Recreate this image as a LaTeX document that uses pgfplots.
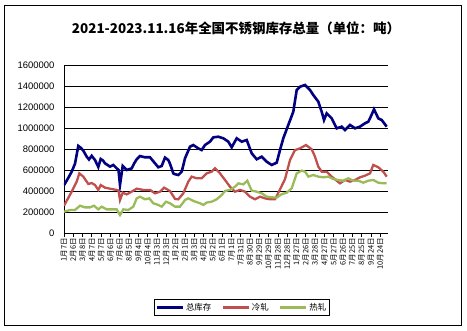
\documentclass[border=0pt]{standalone}
\usepackage{pgfplots}
\pgfplotsset{compat=1.18}
\usepackage{fontspec}
\setmainfont{Liberation Sans}
\newfontfamily\cjk{Noto Sans CJK SC}
\definecolor{cTotal}{RGB}{0,0,128}
\definecolor{cCold}{RGB}{192,80,77}
\definecolor{cHot}{RGB}{155,187,89}
\begin{document}
\begin{tikzpicture}
\useasboundingbox (-64bp,-98bp) rectangle (403bp,233bp);
\begin{axis}[
  at={(0,0)}, anchor=south west,
  scale only axis, width=324bp, height=168bp,
  xmin=64, xmax=388, ymin=0, ymax=1600000,
  axis x line*=bottom, axis y line*=left,
  axis line style={line width=0.8bp, black},
  ymajorgrids, grid style={line width=0.8bp, black},
  ytick={0,200000,...,1600000},
  scaled y ticks=false,
  /pgf/number format/.cd, fixed, 1000 sep={}, assume math mode=true,
  /pgfplots/.cd,
  ytick style={draw=none},
  yticklabel style={font=\fontsize{9.5}{10}\selectfont, xshift=-2bp},
  xtick={64,73.3,82.6,91.9,101.2,110.5,119.8,129.1,138.4,147.7,157,166.3,175.6,184.9,194.2,203.5,212.8,222.1,231.4,240.7,250,259.3,268.6,277.9,287.2,296.5,305.8,315.1,324.4,333.7,343,352.3,361.6,370.9,380.2},
  xticklabels={1月7日,2月6日,3月8日,4月7日,5月7日,6月6日,7月6日,8月5日,9月4日,10月4日,11月3日,12月3日,1月2日,2月1日,3月3日,4月2日,5月2日,6月1日,7月1日,7月31日,8月30日,9月29日,10月29日,11月28日,12月28日,1月27日,2月26日,3月28日,4月27日,5月27日,6月26日,7月25日,8月25日,9月24日,10月24日},
  xtick pos=bottom, tick align=outside, major tick length=4bp,
  xtick style={line width=0.8bp, black},
  xticklabel style={rotate=90, anchor=east, font=\cjk\fontsize{7.5}{8}\selectfont, inner sep=1bp},
  legend columns=3,
  legend style={at={(0.549,-0.443)}, anchor=center, draw=black, line width=0.8bp,
    font=\cjk\fontsize{8.5}{9}\selectfont, inner sep=1.5bp,
    /tikz/every even column/.append style={column sep=8bp}},
  legend image code/.code={\draw[#1, line width=2.5bp] (0,0) -- (26bp,0);},
]
\addplot[cTotal, line width=2.6bp] table {
64 455000
68 520000
71.7 584000
75 660000
78.3 829000
81 810000
83.3 784000
86.7 727000
89 700000
91.7 735000
95 695000
98.3 629000
100.7 705000
103 690000
105 664000
110 632000
113.3 648000
116.7 616000
118.5 600000
120 457000
122.7 638000
126.7 600000
131.7 616000
134 660000
136.7 702000
140 733000
145 721000
150 721000
153.3 683000
158.3 626000
161.7 638000
165 718000
168.3 695000
170 660000
173.3 568000
175 560000
178.3 552000
181.7 584000
185 711000
190 822000
193.3 838000
198.3 806000
201.7 790000
205 838000
210 870000
213.3 911000
218.3 917000
223.3 902000
228.3 870000
231.7 816000
236.7 902000
241.7 870000
246.7 886000
251.7 759000
256.7 702000
261.7 727000
266.7 679000
271.7 648000
276.7 670000
280 790000
283.3 902000
288.3 1029000
293.3 1155000
296.7 1362000
300 1393000
305 1410000
310 1362000
313.3 1314000
318.3 1251000
321.7 1155000
324 1076000
326.7 1140000
331.7 1092000
336.7 997000
341.7 1013000
345 981000
350 1029000
355 997000
360 1013000
365 1045000
368.3 1060000
370 1092000
374 1178000
378.3 1092000
381.7 1076000
386.7 1013000
};
\addlegendentry{总库存}
\addplot[cCold, line width=2.3bp] table {
64 260000
71.7 394000
76.7 489000
79.3 568000
83.3 537000
88.3 467000
91.7 476000
95 457000
98.3 410000
100.7 457000
105 432000
110 422000
116.7 410000
118.5 405000
120 314000
122.7 384000
126.7 368000
131.7 394000
136.7 422000
143.3 410000
150 410000
155 378000
160 394000
164 432000
170 400000
175 325000
178.3 321000
183.3 378000
188.3 489000
191.7 537000
196.7 521000
201.7 521000
206.7 568000
211.7 584000
215 616000
220 568000
225 505000
230 441000
235 394000
240 410000
245 394000
250 346000
255 321000
260 346000
265 330000
270 321000
275 321000
280 415000
285 513000
290 695000
295 790000
300 806000
306 838000
311.7 797000
315 727000
318.3 632000
321.7 584000
326.7 584000
331.7 537000
336.7 498000
340 473000
345 505000
350 489000
355 505000
360 530000
365 546000
370 568000
373.3 648000
378.3 626000
383.3 584000
386.7 537000
};
\addlegendentry{冷轧}
\addplot[cHot, line width=2.3bp] table {
64 203000
70 219000
75 219000
80 260000
85 244000
90 244000
94 260000
98.3 225000
101.7 251000
106.7 225000
111.7 225000
116.7 225000
120 171000
123.3 225000
128.3 219000
133.3 251000
136.7 330000
140 346000
145 321000
149.3 330000
153.3 283000
158.3 267000
161.7 251000
166 298000
170 283000
175 251000
180 251000
185 314000
188.3 330000
193.3 306000
200 283000
203.3 267000
206.7 290000
211.7 298000
216.7 321000
221.7 362000
225 400000
230 410000
235 441000
238.3 473000
243.3 463000
247.3 498000
251.7 403000
256.7 394000
261.7 378000
266.7 346000
271.7 340000
276.7 337000
281.7 370000
286.7 384000
291.7 425000
296.7 568000
301.7 594000
305 584000
308.3 537000
313.3 552000
318.3 537000
323.3 530000
328.3 537000
333.3 514000
338.3 505000
343.3 498000
348.3 521000
353.3 498000
358.3 498000
363.3 479000
368.3 498000
373.3 505000
378.3 479000
383.3 473000
386.7 473000
};
\addlegendentry{热轧}
\end{axis}
\node[font=\cjk\bfseries\fontsize{13.5}{15}\selectfont] at (172bp,205bp) {2021-2023.11.16年全国不锈钢库存总量（单位：吨）};
\draw[line width=0.8bp] (-60bp,-92bp) rectangle (397bp,228bp);
\end{tikzpicture}
\end{document}
